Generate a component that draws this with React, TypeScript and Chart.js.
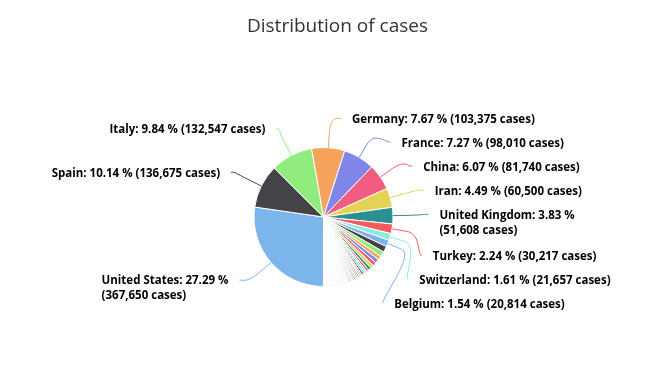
import React, { useEffect, useRef } from 'react';
import { Chart, registerables } from 'chart.js';

Chart.register(...registerables);

const TITLE = 'Distribution of cases';

const topCountries = ['United States', 'Spain', 'Italy', 'Germany', 'France', 'China', 'Iran', 'United Kingdom', 'Turkey', 'Switzerland', 'Belgium'];
const topCases = [367650, 136675, 132547, 103375, 98010, 81740, 60500, 51608, 30217, 21657, 20814];

const otherCountries = [
  'Netherlands', 'Canada', 'Austria', 'Brazil', 'Portugal', 'South Korea', 'Israel', 'Sweden', 'Russia', 'Norway',
  'Australia', 'Ireland', 'Denmark', 'Czechia', 'Chile', 'India', 'Poland', 'Romania', 'Japan', 'Pakistan',
  'Malaysia', 'Ecuador', 'Philippines', 'Luxembourg', 'Saudi Arabia', 'Peru', 'Indonesia', 'Mexico', 'Thailand', 'Serbia',
  'Finland', 'United Arab Emirates', 'Panama', 'Qatar', 'Dominican Republic', 'Greece', 'South Africa', 'Iceland', 'Colombia', 'Argentina',
  'Ukraine', 'Algeria', 'Singapore', 'Egypt', 'Croatia', 'Morocco', 'Estonia', 'New Zealand', 'Iraq', 'Slovenia',
  'Moldova', 'Hong Kong', 'Lithuania', 'Armenia', 'Hungary', 'Diamond Princess', 'Bahrain', 'Belarus', 'Bosnia and Herzegovina', 'Kazakhstan',
  'Cameroon', 'Azerbaijan', 'Tunisia', 'North Macedonia', 'Kuwait', 'Bulgaria', 'Andorra', 'Latvia', 'Lebanon', 'Puerto Rico',
  'Slovakia', 'Cyprus', 'Costa Rica', 'Uruguay', 'Taiwan', 'Afghanistan', 'Burkina Faso', 'Albania', 'Jordan', 'Réunion',
  'Uzbekistan', 'Cuba', 'Oman', 'Honduras', 'San Marino', 'Ivory Coast', 'Palestine', 'Niger', 'Vietnam', 'Nigeria',
  'Montenegro', 'Channel Islands', 'Malta', 'Mauritius', 'Senegal', 'Kyrgyzstan', 'Ghana', 'Bolivia', 'Georgia', 'Kosovo',
  'Faroe Islands', 'Sri Lanka', 'Bangladesh', 'DR Congo', 'Kenya', 'Mayotte', 'Martinique', 'Guinea', 'Guadeloupe', 'Brunei',
  'Isle of Man', 'Cambodia', 'Paraguay', 'Guam', 'Rwanda', 'Trinidad and Tobago', 'Gibraltar', 'Djibouti', 'Madagascar', 'Monaco',
  'Liechtenstein', 'Aruba', 'Guatemala', 'El Salvador', 'French Guiana', 'Jamaica', 'Togo', 'Barbados', 'Ethiopia', 'Uganda',
  'Mali', 'French Polynesia', 'Congo', 'Macao', 'Zambia', 'Bermuda', 'Cayman Islands', 'Bahamas', 'Guyana', 'Eritrea', 'Benin',
  'Haiti', 'Tanzania', 'Gabon', 'Myanmar', 'Maldives', 'Libya', 'Syria', 'Antigua and Barbuda', 'New Caledonia', 'Namibia',
  'Angola', 'Equatorial Guinea', 'Mongolia', 'Dominica', 'Liberia', 'Fiji', 'Saint Lucia', 'Curaçao', 'Sudan', 'Grenada',
  'Seychelles', 'Greenland', 'Eswatini', 'Zimbabwe', 'Mozambique', 'Suriname', 'Nepal', 'Chad', 'Somalia', 'Cabo Verde',
  'Belize', 'Nicaragua', 'Botswana', 'Bhutan', 'Gambia',
];
const otherCases = [
  18803, 16563, 12297, 12232, 11730, 10331, 9248, 7206, 6343, 5865,
  5844, 5364, 4875, 4822, 4815, 4778, 4413, 4057, 3906, 3864,
  3793, 3747, 3660, 2804, 2605, 2561, 2491, 2439, 2220, 2200,
  2176, 2076, 1988, 1832, 1828, 1755, 1655, 1586, 1579, 1554,
  1462, 1423, 1375, 1322, 1222, 1184, 1108, 1039, 1031, 1021,
  965, 914, 843, 833, 744, 712, 700, 700, 674, 662,
  658, 641, 596, 570, 556, 549, 545, 542, 541, 513,
  485, 465, 454, 400, 373, 367, 364, 361, 349, 344,
  342, 320, 298, 298, 266, 261, 254, 253, 245, 238,
  233, 228, 227, 227, 226, 216, 214, 194, 188, 184,
  181, 178, 164, 161, 158, 147, 145, 144, 143, 135,
  127, 114, 113, 113, 105, 105, 103, 90, 82, 79,
  78, 74, 70, 69, 61, 58, 58, 56, 52, 52,
  47, 47, 45, 44, 39, 39, 39, 33, 29, 29, 26,
  24, 24, 21, 21, 19, 19, 19, 19, 18, 16,
  16, 16, 15, 15, 14, 14, 14, 14, 12, 12,
  11, 11, 10, 10, 10, 10, 9, 9, 8, 7,
  7, 6, 6, 5, 4,
];

const palette = ['#7cb5ec', '#434348', '#90ed7d', '#f7a35c', '#8085e9', '#f15c80', '#e4d354', '#2b908f', '#f45b5b', '#91e8e1'];
const LABEL_MIN_PERCENT = 1.5;

const countries = [...topCountries, ...otherCountries];
const cases = [...topCases, ...otherCases];

const LABEL_FONT = 'bold 11.5px "Open Sans"';
const TITLE_FONT = '19px "Open Sans"';

const pieLabels = {
  id: 'pieLabels',
  afterDraw(chart: any) {
    const ctx = chart.ctx as CanvasRenderingContext2D;
    const meta = chart.getDatasetMeta(0);
    const arcs = meta.data as any[];
    const values = chart.data.datasets[0].data as number[];
    const total = values.reduce((a, b) => a + b, 0);
    const a0 = arcs[0];
    const cx = a0.x, cy = a0.y, r = a0.outerRadius;
    const Rn = r * 1.41, ax = r * 1.67, by = r * 1.51, cyx = cy + 4;
    const lineH = 15, boxH = 24, extra = 2;

    ctx.save();
    ctx.font = TITLE_FONT;
    ctx.fillStyle = '#333333';
    ctx.textAlign = 'center';
    ctx.textBaseline = 'alphabetic';
    ctx.fillText(TITLE, chart.width / 2 + 9, 32);

    ctx.font = LABEL_FONT;
    const items: any[] = [];
    arcs.forEach((arc, i) => {
      const pct = (values[i] / total) * 100;
      if (pct < LABEL_MIN_PERCENT) return;
      const mid = (arc.startAngle + arc.endAngle) / 2;
      const cos = Math.cos(mid), sin = Math.sin(mid);
      const side = cos >= 0 ? 1 : -1;
      const head = `${countries[i]}: ${pct.toFixed(2)} %`;
      const tail = `(${values[i].toLocaleString('en-US')} cases)`;
      items.push({ i, cos, sin, side, head, tail, natural: cy + Rn * sin, lines: [head + ' ' + tail], x: 0, y: 0 });
    });
    const xAt = (y: number, side: number) => {
      const d = (y - cyx) / by;
      const k = Math.abs(d) >= 1 ? 0 : Math.sqrt(1 - d * d);
      return cx + side * ax * k;
    };
    const layout = () => {
      [1, -1].forEach((side) => {
        const list = items.filter((it) => it.side === side).sort((p, q) => p.natural - q.natural);
        let prevBottom = -Infinity;
        list.forEach((it) => {
          it.y = Math.max(it.natural, prevBottom + boxH / 2);
          const n = it.lines.length - 1;
          prevBottom = it.y + boxH / 2 + (lineH + extra) * n;
          it.x = xAt(it.y, side);
        });
      });
    };
    layout();
    items.forEach((it) => {
      const w = ctx.measureText(it.lines[0]).width;
      const over = it.side > 0 ? it.x + w > chart.width - 30 : it.x - w < 30;
      if (over) it.lines = [it.head, it.tail];
    });
    layout();

    items.forEach((it) => {
      const color = palette[it.i % palette.length];
      const tx = cx + r * it.cos, ty = cy + r * it.sin;
      const bx = cx + (r + 15) * it.cos, byy = cy + (r + 15) * it.sin;
      const ex = it.x - it.side * 11, ey = it.y - 1;
      ctx.beginPath();
      ctx.moveTo(ex, ey);
      ctx.bezierCurveTo(ex - it.side * 5, ey, 2 * bx - tx, 2 * byy - ty, bx, byy);
      ctx.lineTo(tx, ty);
      ctx.strokeStyle = color;
      ctx.lineWidth = 1;
      ctx.stroke();

      const widths = it.lines.map((l: string) => ctx.measureText(l).width);
      const left = it.side > 0 ? it.x : it.x - Math.max(...widths);
      ctx.textAlign = 'left';
      ctx.textBaseline = 'middle';
      ctx.lineJoin = 'round';
      it.lines.forEach((l: string, j: number) => {
        const ly = it.y + j * lineH;
        ctx.strokeStyle = '#ffffff';
        ctx.lineWidth = 2;
        ctx.strokeText(l, left, ly);
        ctx.fillStyle = '#000000';
        ctx.fillText(l, left, ly);
      });
    });
    ctx.restore();
  },
};

export default function App() {
  const ref = useRef<HTMLCanvasElement | null>(null);
  useEffect(() => {
    if (!ref.current) return;
    const chart = new Chart(ref.current, {
      type: 'pie',
      data: {
        labels: countries,
        datasets: [
          {
            data: cases,
            backgroundColor: cases.map((_, i) => palette[i % palette.length]),
            borderColor: '#ffffff',
            borderWidth: 1,
          },
        ],
      },
      options: {
        responsive: false,
        animation: false,
        devicePixelRatio: 1,
        rotation: 180,
        radius: 69.5,
        layout: { padding: { top: 147.5, bottom: 95.5, left: 0, right: 10 } },
        plugins: { legend: { display: false }, tooltip: { enabled: false }, title: { display: false } },
        events: [],
      } as any,
      plugins: [pieLabels],
    });
    if ((document as any).fonts && (document as any).fonts.ready) {
      (document as any).fonts.ready.then(() => chart.draw());
    }
    return () => chart.destroy();
  }, []);
  return (
    <div style={{ position: 'absolute', left: 0, top: 0, width: 657, height: 382, background: '#ffffff' }}>
      <canvas ref={ref} width={657} height={382} />
    </div>
  );
}
